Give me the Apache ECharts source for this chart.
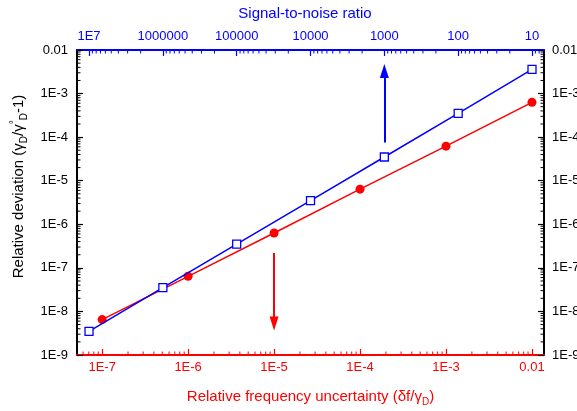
<!DOCTYPE html>
<html>
<head>
<meta charset="utf-8">
<script src="https://cdn.jsdelivr.net/npm/echarts@6/dist/echarts.min.js"></script>
<style>
html, body { margin: 0; padding: 0; background: #fff; }
#main { width: 577px; height: 411px; }
</style>
</head>
<body>
<div id="main"></div>
<script>
var xTickValues = [1e-7, 1e-6, 1e-5, 1e-4, 1e-3, 1e-2];
var xTickLabels = ['1E-7', '1E-6', '1E-5', '1E-4', '1E-3', '0.01'];
var snrTickValues = [1e7, 1e6, 1e5, 1e4, 1e3, 100, 10];
var snrTickLabels = ['1E7', '1000000', '100000', '10000', '1000', '100', '10'];
var yTickValues = [1e-9, 1e-8, 1e-7, 1e-6, 1e-5, 1e-4, 1e-3, 1e-2];
var yTickLabels = ['1E-9', '1E-8', '1E-7', '1E-6', '1E-5', '1E-4', '1E-3', '0.01'];

// red: vs relative frequency uncertainty (bottom axis)
var redX = [1e-7, 1e-6, 1e-5, 1e-4, 1e-3, 1e-2];
var redY = [6.5e-9, 6.4e-8, 6.3e-7, 6.4e-6, 6.2e-5, 6.3e-4];
// blue: vs signal-to-noise ratio (top axis)
var blueSnr = [1e7, 1e6, 1e5, 1e4, 1e3, 100, 10];
var blueY = [3.5e-9, 3.5e-8, 3.5e-7, 3.5e-6, 3.5e-5, 3.5e-4, 3.6e-3];

// arrows [x, yStart, yEnd]
var blueArrow = [1000, 7.5e-5, 3.3e-3];
var redArrow = [1e-5, 2.2e-7, 5.3e-9];

var xMin = 5.1e-8, xMax = 0.0138;
var snrMin = 6.88, snrMax = 1.455e7;
var yMin = 1e-9, yMax = 1e-2;

var RED = '#ff0000', BLUE = '#0000ff', BLACK = '#000000';
var FONT = '"Liberation Sans", Arial, sans-serif';

function lookup(vals, labels, v) {
  for (var i = 0; i < vals.length; i++) {
    if (Math.abs(Math.log10(v) - Math.log10(vals[i])) < 0.01) return labels[i];
  }
  return '';
}

function minorValues(lo, hi) {
  var out = [];
  for (var e = Math.floor(Math.log10(lo)); e <= Math.ceil(Math.log10(hi)); e++) {
    for (var k = 2; k <= 9; k++) {
      var v = k * Math.pow(10, e);
      if (v > lo && v < hi) out.push(v);
    }
  }
  return out;
}

function minorTicks(side, color) {
  return function (params, api) {
    var cs = params.coordSys;
    var p = api.coord([api.value(0), api.value(1)]);
    var s;
    if (side == 'bottom' || side == 'top') {
      if (p[0] < cs.x || p[0] > cs.x + cs.width) return;
      var yy = side == 'bottom' ? cs.y + cs.height : cs.y;
      var d = side == 'bottom' ? -3.5 : 3.5;
      s = { x1: p[0], y1: yy, x2: p[0], y2: yy + d };
    } else {
      if (p[1] < cs.y || p[1] > cs.y + cs.height) return;
      var xx = side == 'left' ? cs.x : cs.x + cs.width;
      var dx = side == 'left' ? 3.5 : -3.5;
      s = { x1: xx, y1: p[1], x2: xx + dx, y2: p[1] };
    }
    return { type: 'line', shape: s, style: { stroke: color, lineWidth: 1 } };
  };
}

function tickSeries(side, color, xIdx, yIdx, data) {
  return {
    type: 'custom',
    xAxisIndex: xIdx,
    yAxisIndex: yIdx,
    silent: true,
    clip: false,
    z: 5,
    renderItem: minorTicks(side, color),
    data: data
  };
}

var rich = {
  n: { fontSize: 15, lineHeight: 20, fontFamily: FONT },
  sub: { fontSize: 10, lineHeight: 10, verticalAlign: 'bottom', fontFamily: FONT },
  sup: { fontSize: 10, lineHeight: 10, verticalAlign: 'top', fontFamily: FONT }
};

var chart = echarts.init(document.getElementById('main'));

function axisCommon(color, vals, labels) {
  return {
    type: 'log',
    logBase: 10,
    axisLine: { show: true, onZero: false, lineStyle: { color: color, width: 2 } },
    axisTick: { show: true, inside: true, length: 6, lineStyle: { color: color, width: 1.2 } },
    axisLabel: {
      color: color, fontSize: 13, fontFamily: FONT,
      showMinLabel: false, showMaxLabel: false,
      formatter: function (v) { return lookup(vals, labels, v); }
    },
    splitLine: { show: false },
    minorTick: { show: false },
    nameTextStyle: { rich: rich, color: color }
  };
}

var xBottom = axisCommon(RED, xTickValues, xTickLabels);
xBottom.position = 'bottom';
xBottom.min = xMin; xBottom.max = xMax;
xBottom.axisLabel.margin = 6;
xBottom.name = '{n|Relative frequency uncertainty (δf/γ}{sub|D}{n|)}';
xBottom.nameLocation = 'middle';
xBottom.nameGap = 32;

var xTop = axisCommon(BLUE, snrTickValues, snrTickLabels);
xTop.position = 'top';
xTop.inverse = true;
xTop.min = snrMin; xTop.max = snrMax;
xTop.axisLabel.margin = 7;
xTop.name = '{n|Signal-to-noise ratio}';
xTop.nameLocation = 'middle';
xTop.nameGap = 26;
xTop.nameTextStyle.padding = [0, 11, 0, 0];

var yLeft = axisCommon(BLACK, yTickValues, yTickLabels);
yLeft.position = 'left';
yLeft.min = yMin; yLeft.max = yMax;
yLeft.axisLabel.showMinLabel = true;
yLeft.axisLabel.showMaxLabel = true;
yLeft.axisLabel.margin = 9;
yLeft.name = '{n|Relative deviation (γ}{sub|D}{n|/γ}{sup|°}{sub|D}{n|-1)}';
yLeft.nameLocation = 'middle';
yLeft.nameGap = 48;
yLeft.nameTextStyle.padding = [0, 0, 0, 32];

var yRight = axisCommon(BLACK, yTickValues, yTickLabels);
yRight.position = 'right';
yRight.min = yMin; yRight.max = yMax;
yRight.axisLabel.showMinLabel = true;
yRight.axisLabel.showMaxLabel = true;
yRight.axisLabel.margin = 8;

var redData = redX.map(function (x, i) { return [x, redY[i]]; });
var blueData = blueSnr.map(function (x, i) { return [x, blueY[i]]; });

var option = {
  animation: false,
  backgroundColor: '#fff',
  textStyle: { fontFamily: FONT },
  grid: { left: 77, right: 33, top: 50, bottom: 56, containLabel: false, outerBoundsMode: 'none' },
  xAxis: [xBottom, xTop],
  yAxis: [yLeft, yRight],
  series: [
    {
      type: 'line',
      name: 'deviation',
      xAxisIndex: 0,
      yAxisIndex: 0,
      data: redData,
      symbol: 'circle',
      symbolSize: 9,
      itemStyle: { color: RED },
      lineStyle: { color: RED, width: 1.5 },
      z: 3,
      markLine: {
        silent: true,
        symbol: ['none', 'triangle'],
        symbolSize: [9, 14],
        label: { show: false },
        lineStyle: { color: RED, width: 2, type: 'solid' },
        data: [[{ coord: [redArrow[0], redArrow[1]] }, { coord: [redArrow[0], redArrow[2]] }]]
      }
    },
    {
      type: 'line',
      name: 'snr',
      xAxisIndex: 1,
      yAxisIndex: 0,
      data: blueData,
      symbol: 'rect',
      symbolSize: 8,
      itemStyle: { color: '#fff', borderColor: BLUE, borderWidth: 1.3 },
      lineStyle: { color: BLUE, width: 1.5 },
      z: 4,
      markLine: {
        silent: true,
        symbol: ['none', 'triangle'],
        symbolSize: [9, 14],
        label: { show: false },
        lineStyle: { color: BLUE, width: 2, type: 'solid' },
        data: [[{ coord: [blueArrow[0], blueArrow[1]] }, { coord: [blueArrow[0], blueArrow[2]] }]]
      }
    },
    tickSeries('bottom', RED, 0, 0, minorValues(xMin, xMax).map(function (v) { return [v, 1e-5]; })),
    tickSeries('top', BLUE, 1, 0, minorValues(snrMin, snrMax).map(function (v) { return [v, 1e-5]; })),
    tickSeries('left', BLACK, 0, 0, minorValues(yMin, yMax).map(function (v) { return [1e-5, v]; })),
    tickSeries('right', BLACK, 0, 0, minorValues(yMin, yMax).map(function (v) { return [1e-5, v]; }))
  ]
};

chart.setOption(option);
</script>
</body>
</html>
